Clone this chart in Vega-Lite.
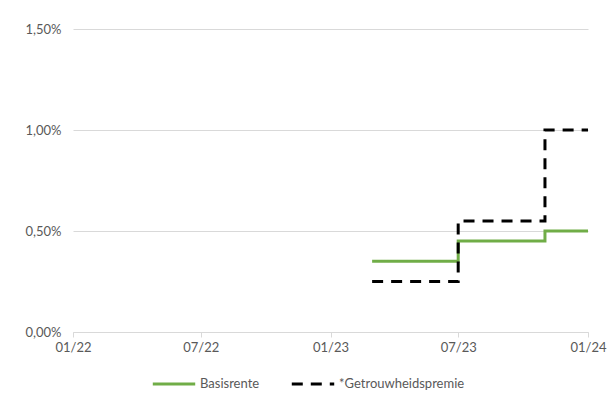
{
  "$schema": "https://vega.github.io/schema/vega-lite/v6.json",
  "width": 515,
  "height": 303,
  "autosize": "none",
  "padding": {"left": 73, "top": 29, "right": 20, "bottom": 68},
  "background": "white",
  "data": {
    "values": [
      {"date": "2023-03-01", "serie": "Basisrente", "rente": 0.35},
      {"date": "2023-07-01", "serie": "Basisrente", "rente": 0.45},
      {"date": "2023-11-01", "serie": "Basisrente", "rente": 0.50},
      {"date": "2024-01-01", "serie": "Basisrente", "rente": 0.50},
      {"date": "2023-03-01", "serie": "*Getrouwheidspremie", "rente": 0.25},
      {"date": "2023-07-01", "serie": "*Getrouwheidspremie", "rente": 0.55},
      {"date": "2023-11-01", "serie": "*Getrouwheidspremie", "rente": 1.00},
      {"date": "2024-01-01", "serie": "*Getrouwheidspremie", "rente": 1.00}
    ]
  },
  "mark": {"type": "line", "interpolate": "step-after", "strokeWidth": 3},
  "encoding": {
    "x": {
      "field": "date",
      "type": "temporal",
      "scale": {"type": "utc", "domain": [{"year": 2022, "month": 1, "date": 1, "utc": true}, {"year": 2024, "month": 1, "date": 1, "utc": true}]},
      "axis": {
        "title": null,
        "values": [
          {"year": 2022, "month": 1, "date": 1, "utc": true},
          {"year": 2022, "month": 7, "date": 1, "utc": true},
          {"year": 2023, "month": 1, "date": 1, "utc": true},
          {"year": 2023, "month": 7, "date": 1, "utc": true},
          {"year": 2024, "month": 1, "date": 1, "utc": true}
        ],
        "labelExpr": "utcFormat(datum.value, '%m/%y')",
        "grid": false,
        "domainColor": "#d9d9d9",
        "tickColor": "#d9d9d9",
        "tickSize": 5,
        "labelPadding": 4,
        "labelFlush": false
      }
    },
    "y": {
      "field": "rente",
      "type": "quantitative",
      "scale": {"domain": [0, 1.5], "nice": false},
      "axis": {
        "title": null,
        "values": [0, 0.5, 1, 1.5],
        "labelExpr": "replace(format(datum.value, '.2f'), '.', ',') + '%'",
        "domain": false,
        "ticks": false,
        "gridColor": "#d9d9d9",
        "labelPadding": 12
      }
    },
    "color": {
      "field": "serie",
      "type": "nominal",
      "scale": {"domain": ["Basisrente", "*Getrouwheidspremie"], "range": ["#70AD47", "#000000"]},
      "legend": {"title": null, "orient": "none", "legendX": 78, "legendY": 332, "direction": "horizontal"}
    },
    "strokeDash": {
      "field": "serie",
      "type": "nominal",
      "scale": {"domain": ["Basisrente", "*Getrouwheidspremie"], "range": [[1, 0], [11, 8]]},
      "legend": {"title": null, "orient": "none", "legendX": 78, "legendY": 332, "direction": "horizontal"}
    }
  },
  "config": {
    "font": "Lato",
    "view": {"stroke": null},
    "axis": {"labelFont": "Lato", "labelFontSize": 13, "labelColor": "#595959"},
    "legend": {
      "labelFont": "Lato",
      "labelFontSize": 13,
      "labelColor": "#595959",
      "symbolType": "stroke",
      "symbolSize": 1800,
      "symbolStrokeWidth": 3,
      "columnPadding": 25,
      "labelOffset": 3
    }
  }
}
